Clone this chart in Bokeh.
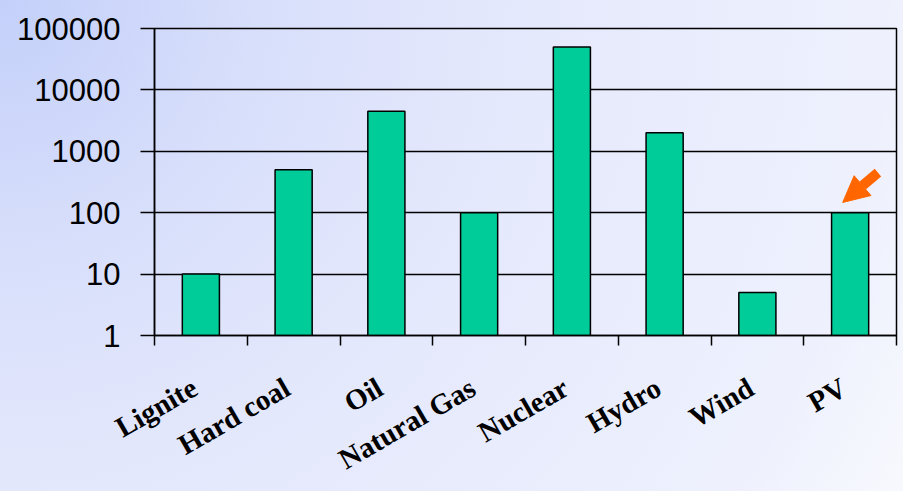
import math

from bokeh.embed import file_html
from bokeh.models import (Arrow, ColumnDataSource, CustomJSTickFormatter, FixedTicker,
                          NormalHead, NumeralTickFormatter, Range1d)
from bokeh.plotting import figure
from bokeh.resources import INLINE

# Energy sources and their values (log scale)
categories = ["Lignite", "Hard coal", "Oil", "Natural Gas", "Nuclear", "Hydro", "Wind", "PV"]
values = [10, 500, 4500, 100, 50000, 2000, 5, 100]
y_ticks = [1, 10, 100, 1000, 10000, 100000]
highlight = "PV"

positions = [i + 0.5 for i in range(len(categories))]
boundaries = list(range(len(categories) + 1))
src = ColumnDataSource(dict(x=positions, top=values, cat=categories))

p = figure(
    width=903, height=491,
    y_axis_type="log",
    x_range=Range1d(0, len(categories)),
    y_range=Range1d(y_ticks[0], y_ticks[-1]),
    output_backend="svg", toolbar_location=None,
    min_border_left=154, min_border_right=7,
    min_border_top=28, min_border_bottom=155,
)

# transparent canvas over a soft blue gradient
p.background_fill_color = None
p.border_fill_color = None
p.outline_line_color = "black"
p.outline_line_width = 1.5
p.styles = {
    "background": "radial-gradient(circle farthest-corner at top left, "
                  "#C4D0FA 0%, #D8DFFB 25%, #E4E8FC 48%, #EEF1FD 86%, #F8F9FE 100%)"
}

p.vbar(x="x", top="top", bottom=y_ticks[0], width=0.4, source=src,
       fill_color="#00CC99", line_color="black", line_width=1.5)

# grid lines at every decade
p.xgrid.visible = False
p.ygrid.ticker = FixedTicker(ticks=y_ticks)
p.ygrid.grid_line_color = "black"
p.ygrid.grid_line_width = 1.5
p.ygrid.minor_grid_line_color = None

# y axis
yax = p.yaxis[0]
yax.ticker = FixedTicker(ticks=y_ticks)
yax.formatter = NumeralTickFormatter(format="0")
yax.axis_line_color = "black"
yax.axis_line_width = 1.5
yax.major_tick_line_color = "black"
yax.major_tick_line_width = 1.5
yax.major_tick_out = 14
yax.major_tick_in = 0
yax.minor_tick_out = 0
yax.minor_tick_in = 0
yax.major_label_standoff = 20
yax.major_label_text_font = "Liberation Sans"
yax.major_label_text_font_size = "31px"
yax.major_label_text_color = "black"

# x axis: names at bar centres, tick marks at category boundaries
xax = p.xaxis[0]
xax.ticker = FixedTicker(ticks=positions, minor_ticks=boundaries)
xax.formatter = CustomJSTickFormatter(
    args=dict(names=categories),
    code="return names[Math.round(tick - 0.5)] + '\\u00a0';",
)
xax.axis_line_color = "black"
xax.axis_line_width = 1.5
xax.major_tick_out = 0
xax.major_tick_in = 0
xax.minor_tick_out = 10
xax.minor_tick_in = 0
xax.minor_tick_line_color = "black"
xax.minor_tick_line_width = 1.5
xax.major_label_orientation = math.pi / 6
xax.major_label_standoff = 36
xax.major_label_text_font = "Liberation Serif"
xax.major_label_text_font_style = "bold"
xax.major_label_text_font_size = "29px"
xax.major_label_text_color = "black"

# orange arrow pointing at the highlighted bar
hi = categories.index(highlight)
arrow_color = "#FF6600"
p.add_layout(Arrow(
    x_start=positions[hi] + 0.3, y_start=values[hi] * 4.5,
    x_end=positions[hi] - 0.08, y_end=values[hi] * 1.47,
    line_color=arrow_color, line_width=10,
    end=NormalHead(size=26, fill_color=arrow_color, line_color=arrow_color, line_width=1),
))

open("out.html", "w").write(file_html(p, INLINE))
